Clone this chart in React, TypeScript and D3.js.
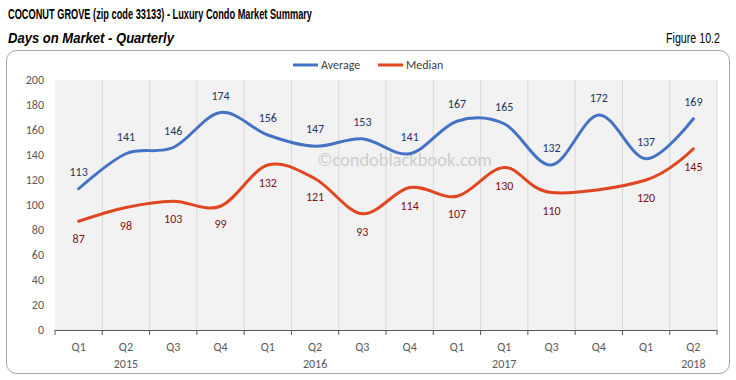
import React from "react";
import * as d3 from "d3";

const quarters = ["Q1", "Q2", "Q3", "Q4", "Q1", "Q2", "Q3", "Q4", "Q1", "Q1", "Q3", "Q4", "Q1", "Q2"];
const years = ["", "2015", "", "", "", "2016", "", "", "", "2017", "", "", "", "2018"];
const averageValues = [113, 141, 146, 174, 156, 147, 153, 141, 167, 165, 132, 172, 137, 169];
const medianValues: (number | null)[] = [87, 98, 103, 99, 132, 121, 93, 114, 107, 130, 110, null, 120, 145];
const yTicks = [0, 20, 40, 60, 80, 100, 120, 140, 160, 180, 200];

const W = 736;
const H = 380;
const FONT = "Carlito, Calibri, Lato, 'Open Sans', sans-serif";
const HEAD = "'Liberation Sans Narrow', 'Arial Narrow', 'Liberation Sans', Arial, sans-serif";

export default function App() {
  const x = d3.scaleBand<number>().domain(quarters.map((_, i) => i)).range([55, 717]).padding(0);
  const y = d3.scaleLinear().domain([0, 200]).range([330, 80]);
  const cx = (i: number) => (x(i) as number) + x.bandwidth() / 2;

  const avgPts = averageValues.map((v, i) => [cx(i), y(v)] as [number, number]);
  const medPts = medianValues
    .map((v, i) => (v == null ? null : ([cx(i), y(v)] as [number, number])))
    .filter((p): p is [number, number] => p !== null);

  const line = d3.line<[number, number]>().curve(d3.curveCardinal.tension(0));
  const bounds = d3.range(quarters.length + 1).map((i) => 55 + i * x.bandwidth());

  return (
    <svg width={W} height={H} style={{ position: "absolute", left: 0, top: 0, background: "#fff" }}>
      <text x={8} y={19} fontFamily={HEAD} fontWeight="bold" fontSize={14} fill="#000" textLength={304} lengthAdjust="spacingAndGlyphs">
        COCONUT GROVE (zip code 33133) - Luxury Condo Market Summary
      </text>
      <text x={8} y={43} fontFamily={HEAD} fontWeight="bold" fontStyle="italic" fontSize={14} fill="#000" textLength={166} lengthAdjust="spacingAndGlyphs">
        Days on Market - Quarterly
      </text>
      <text x={666} y={43} fontFamily={HEAD} fontSize={14} fill="#000" textLength={54} lengthAdjust="spacingAndGlyphs">
        Figure 10.2
      </text>

      <rect x={6.5} y={50.5} width={723} height={323} rx={10} ry={10} fill="#fff" stroke="#a6a6a6" strokeWidth={1} />

      <rect x={55} y={80} width={662} height={250} fill="#f2f2f2" />
      {bounds.slice(1).map((b, i) => (
        <line key={"g" + i} x1={b} x2={b} y1={80} y2={330} stroke="#d9d9d9" strokeWidth={1} />
      ))}

      <text x={317} y={166} fontFamily={FONT} fontSize={18} fill="#cdcdcd" textLength={175} lengthAdjust="spacingAndGlyphs">
        ©condoblackbook.com
      </text>

      <line x1={55} x2={717} y1={330.5} y2={330.5} stroke="#595959" strokeWidth={1} />
      {bounds.map((b, i) => (
        <line key={"t" + i} x1={b} x2={b} y1={330} y2={335} stroke="#595959" strokeWidth={1} />
      ))}

      {yTicks.map((t) => (
        <text key={t} x={44} y={y(t)} dy="0.35em" textAnchor="end" fontFamily={FONT} fontSize={12} fill="#595959">
          {t}
        </text>
      ))}

      {quarters.map((q, i) => (
        <text key={"q" + i} x={cx(i)} y={351} textAnchor="middle" fontFamily={FONT} fontSize={12} fill="#595959">
          {q}
        </text>
      ))}
      {years.map((yr, i) =>
        yr ? (
          <text key={"y" + i} x={cx(i)} y={368} textAnchor="middle" fontFamily={FONT} fontSize={12} fill="#595959">
            {yr}
          </text>
        ) : null
      )}

      <path d={line(avgPts) as string} fill="none" stroke="#4472c4" strokeWidth={3} strokeLinecap="round" />
      <path d={line(medPts) as string} fill="none" stroke="#e0461f" strokeWidth={3} strokeLinecap="round" />

      {averageValues.map((v, i) => (
        <text key={"a" + i} x={cx(i)} y={y(v) - 17} dy="0.35em" textAnchor="middle" fontFamily={FONT} fontSize={12} fill="#1f3864">
          {v}
        </text>
      ))}
      {medianValues.map((v, i) =>
        v == null ? null : (
          <text key={"m" + i} x={cx(i)} y={y(v) + 18} dy="0.35em" textAnchor="middle" fontFamily={FONT} fontSize={12} fill="#7f1010">
            {v}
          </text>
        )
      )}

      <line x1={293} x2={318} y1={65} y2={65} stroke="#4472c4" strokeWidth={3} />
      <text x={321} y={65} dy="0.35em" fontFamily={FONT} fontSize={12} fill="#404040">Average</text>
      <line x1={378} x2={403} y1={65} y2={65} stroke="#e0461f" strokeWidth={3} />
      <text x={406} y={65} dy="0.35em" fontFamily={FONT} fontSize={12} fill="#404040">Median</text>
    </svg>
  );
}
